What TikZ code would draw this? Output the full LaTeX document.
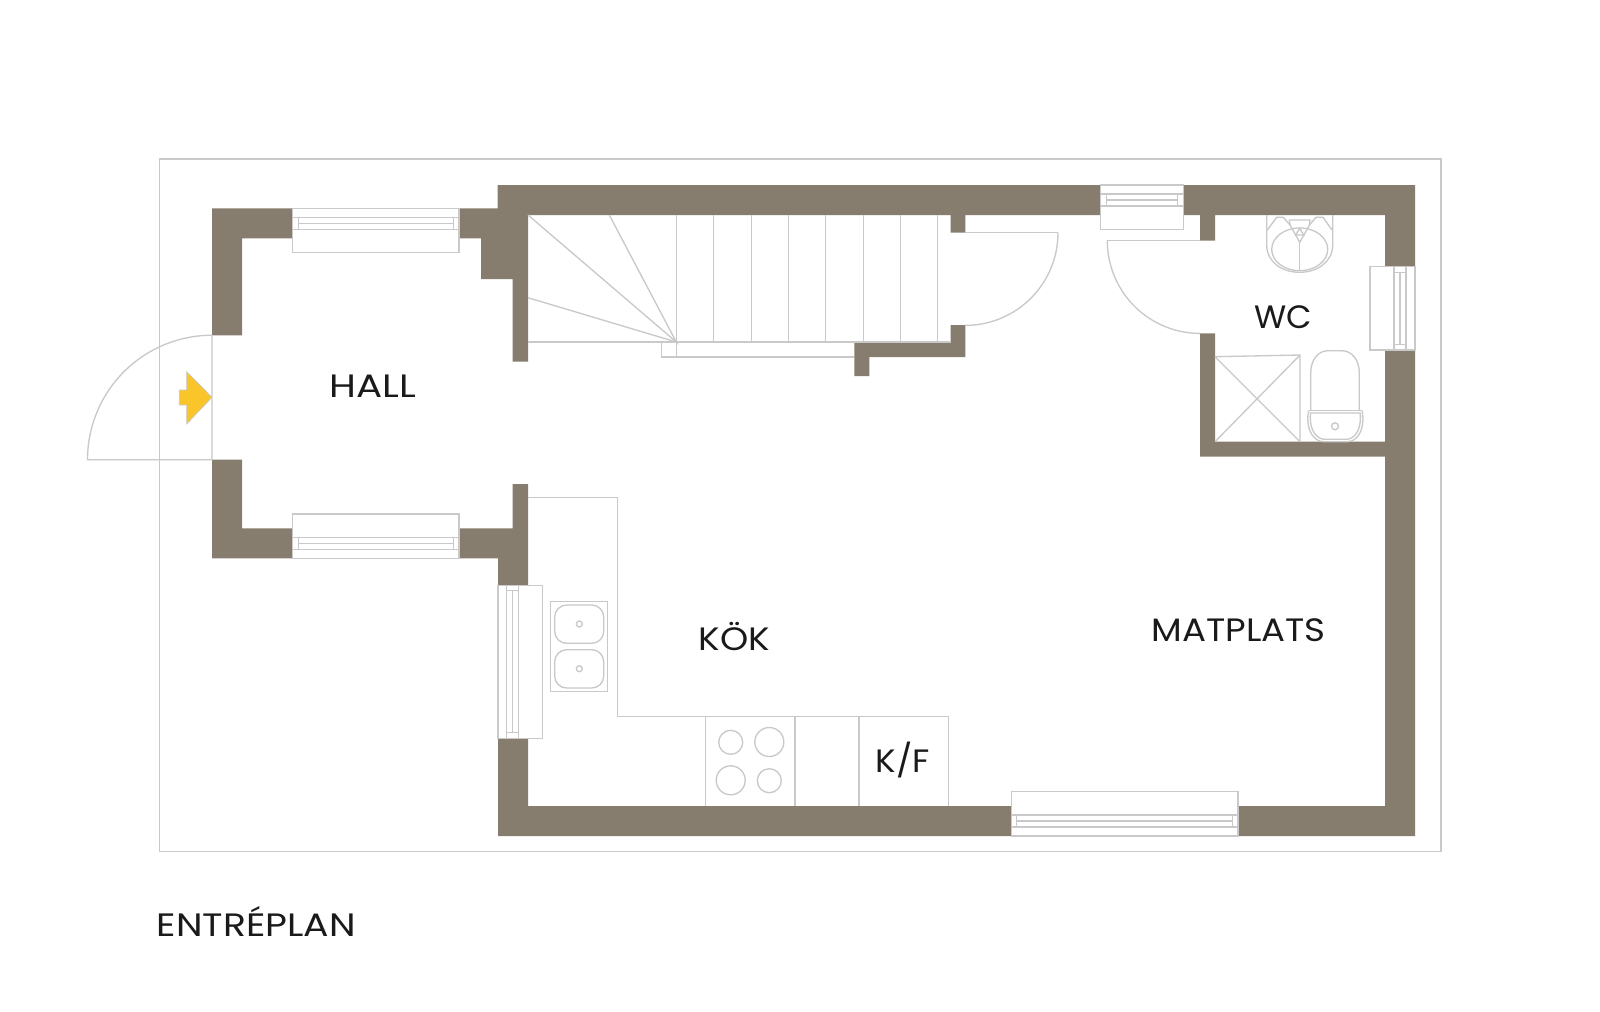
\documentclass[tikz,border=0pt]{standalone}
\usepackage{fontspec}
\setmainfont{Poppins}
\definecolor{wallcol}{HTML}{877D6F}
\definecolor{linecol}{HTML}{C9C9C9}
\definecolor{arrowcol}{HTML}{F9C52B}
\definecolor{textcol}{HTML}{1A1A1A}
\tikzset{
    wallfill/.style={fill=wallcol},
    planline/.style={draw=linecol,line width=0.38pt},
    roomlabel/.style={inner sep=0pt,anchor=base west,text=textcol,font=\fontsize{9.2}{11}\selectfont,xscale=#1,transform shape},
}

\begin{document}
\begin{tikzpicture}[x=0.01cm,y=-0.01cm]
    \useasboundingbox[fill=white] (0,0) rectangle (1600,1011);
    % outline of the plot
    \draw[planline] (159.3,159) rectangle (1441,851.7);
    % walls
    \fill[wallfill] (212,335.3) -- (212,208.3) -- (292.7,208.3) -- (292.7,238.3) -- (242,238.3) -- (242,335.3) -- cycle;
    \fill[wallfill] (459,208.3) -- (497.7,208.3) -- (497.7,185) -- (1100.7,185) -- (1100.7,215) -- (965.3,215) -- (965.3,232.7)
        -- (950.7,232.7) -- (950.7,215) -- (528,215) -- (528,361.7) -- (512.7,361.7) -- (512.7,279) -- (481,279) -- (481,238.3) -- (459,238.3) -- cycle;
    \fill[wallfill] (1183.3,185) -- (1415,185) -- (1415,266.7) -- (1385,266.7) -- (1385,215) -- (1215,215) -- (1215,240.7)
        -- (1200,240.7) -- (1200,215) -- (1183.3,215) -- cycle;
    \fill[wallfill] (1385,350) -- (1415,350) -- (1415,836) -- (1238,836) -- (1238,806) -- (1385,806) -- (1385,456.7) -- (1200,456.7)
        -- (1200,333.3) -- (1215,333.3) -- (1215,441.7) -- (1385,441.7) -- cycle;
    \fill[wallfill] (1011.3,806) -- (528,806) -- (528,738.3) -- (498,738.3) -- (498,836) -- (1011.3,836) -- cycle;
    \fill[wallfill] (212,459.7) -- (242,459.7) -- (242,528.3) -- (292.7,528.3) -- (292.7,558.3) -- (212,558.3) -- cycle;
    \fill[wallfill] (459,528.3) -- (512.7,528.3) -- (512.7,484) -- (528,484) -- (528,585.3) -- (498,585.3) -- (498,558.3) -- (459,558.3) -- cycle;
    \fill[wallfill] (950.7,325) -- (965.3,325) -- (965.3,357) -- (869.3,357) -- (869.3,376) -- (854.3,376) -- (854.3,342) -- (950.7,342) -- cycle;
    % windows
    \foreach \xl/\xr/\yt/\yb/\ym in {292.7/459/208.3/252.7/223.3, 292.7/459/514/558.3/543.3, 1100.7/1183.3/185/229.3/200, 1011.3/1238/791.7/836/821} {
        \draw[planline,fill=white] (\xl,\yt) rectangle (\xr,\yb);
        \draw[planline] (\xl,\ym-6) -- (\xr,\ym-6) (\xl,\ym+6) -- (\xr,\ym+6) (\xl+5.5,\ym) -- (\xr-5.5,\ym);
        \draw[planline] (\xl+5.5,\ym-6) -- (\xl+5.5,\ym+6) (\xr-5.5,\ym-6) -- (\xr-5.5,\ym+6);
    }
    \foreach \xl/\xr/\yt/\yb/\xm in {498/542.3/585.3/738.3/512.7, 1370/1415/266.7/350/1400} {
        \draw[planline,fill=white] (\xl,\yt) rectangle (\xr,\yb);
        \draw[planline] (\xm-6,\yt) -- (\xm-6,\yb) (\xm+6,\yt) -- (\xm+6,\yb) (\xm,\yt+5.5) -- (\xm,\yb-5.5);
        \draw[planline] (\xm-6,\yt+5.5) -- (\xm+6,\yt+5.5) (\xm-6,\yb-5.5) -- (\xm+6,\yb-5.5);
    }
    % doors
    \draw[planline] plot[domain=90:180,samples=40] ({212+124.5*cos(\x)},{459.7-124.5*sin(\x)}) -- (212,459.7) -- (212,335.2);
    \draw[planline] plot[domain=0:-90,samples=30] ({965.3+92.7*cos(\x)},{232.7-92.7*sin(\x)}) -- (965.3,325.4);
    \draw[planline] (965.3,232.7) -- (1058,232.7);
    \draw[planline] plot[domain=180:270,samples=30] ({1200+92.7*cos(\x)},{240.7-92.7*sin(\x)});
    \draw[planline] (1200,240.7) -- (1107.3,240.7);
    % entrance arrow
    \draw[draw=linecol,line width=0.2pt,fill=arrowcol] (212,397.3) -- (186.7,371.7) -- (186.7,390) -- (179.3,390) -- (179.3,405) -- (186.7,405) -- (186.7,424) -- cycle;
    % stairs
    \foreach \xs in {676.7,713.7,751.3,788.7,825.7,863.3,900.7,937.7} {
        \draw[planline] (\xs,215) -- (\xs,342);
    }
    \draw[planline] (528,342) -- (950.7,342);
    \draw[planline] (528,215) -- (676.3,342) -- (609.3,215);
    \draw[planline] (528,297.7) -- (676.3,342);
    \draw[planline] (676.7,342) -- (661.3,342) -- (661.3,357) -- (854.3,357);
    \draw[planline] (676.7,342) -- (676.7,357);
    % kitchen
    \draw[planline] (528,497.7) -- (617.3,497.7) -- (617.3,716.7) -- (948.3,716.7) -- (948.3,806);
    \foreach \xs in {705.3,795,859} {
        \draw[planline] (\xs,716.7) -- (\xs,806);
    }
    \foreach \xs/\ys/\rs in {730.7/742.3/12, 769.3/742/14.5, 730.7/780.3/14.5, 769.3/780.7/12} {
        \draw[planline] (\xs,\ys) circle (\rs);
    }
    \draw[planline] (550.7,601.3) rectangle (607.7,691.7);
    \draw[planline,rounded corners=1.2mm] (554.7,605) rectangle (603.7,643.3);
    \draw[planline,rounded corners=1.2mm] (554.7,649.7) rectangle (603.7,688);
    \draw[planline] (579.3,624) circle (3) (579.3,668.7) circle (3);
    % wc
    \draw[planline] (1215,356.7) -- (1300,355) -- (1300,441.7) (1215,356.7) -- (1300,441.7) (1215,441.7) -- (1300,355);
    \draw[planline] (1310.7,410.7) -- (1310.7,373) .. controls (1310.7,360) and (1318,350.7) .. (1328,350.7) -- (1341.7,350.7)
        .. controls (1352,350.7) and (1359.3,360) .. (1359.3,373) -- (1359.3,410.7);
    \draw[planline] (1308.5,410.7) -- (1362.2,410.7);
    \draw[planline] (1308.5,410.7) -- (1307.7,418) .. controls (1307.7,433) and (1315,441.7) .. (1324,441.7) -- (1347,441.7)
        .. controls (1356,441.7) and (1363,433) .. (1363,418) -- (1362.2,410.7);
    \draw[planline] (1310.5,413) -- (1310.3,418) .. controls (1310.3,431) and (1317,439.3) .. (1325,439.3) -- (1346,439.3)
        .. controls (1354,439.3) and (1360.4,431) .. (1360.4,418) -- (1360.2,413) -- cycle;
    \draw[planline] (1335,426.3) circle (3.5);
    \draw[planline] (1266.7,215) -- (1266.7,245) .. controls (1266.7,262) and (1282,272.3) .. (1299.7,272.3)
        .. controls (1317,272.3) and (1332.7,262) .. (1332.7,245) -- (1332.7,215);
    \draw[planline] (1299.7,249.3) ellipse [x radius=28,y radius=21.4];
    \draw[planline] (1267.3,230) -- (1276.7,217.3) -- (1283.3,217.3) -- (1290,225) -- (1299.7,242.3) -- (1309.5,225) -- (1316,217.3) -- (1323,217.3) -- (1332,230);
    \draw[planline] (1289.3,220) -- (1310,220) -- (1309.5,225) (1289.3,220) -- (1290,225);
    \draw[planline] (1299.7,228.3) -- (1295.7,235) -- (1303.7,235) -- cycle;
    \draw[planline] (1299.7,242.3) -- (1299.7,270.7);
    % labels
    \node[roomlabel=1.2] (hall) at (328.5,397.7) {HALL};
    \node[roomlabel=1.02] (wc) at (1254,328) {WC};
    \node[roomlabel=1.11] (kok) at (698,650) {KÖK};
    \node[roomlabel=1.1] (matplats) at (1151,641.7) {MATPLATS};
    \node[roomlabel=1.06] (kf) at (875,772.3) {K/F};
    \node[roomlabel=1.167] (entreplan) at (156,936) {ENTRÉPLAN};
\end{tikzpicture}
\end{document}
